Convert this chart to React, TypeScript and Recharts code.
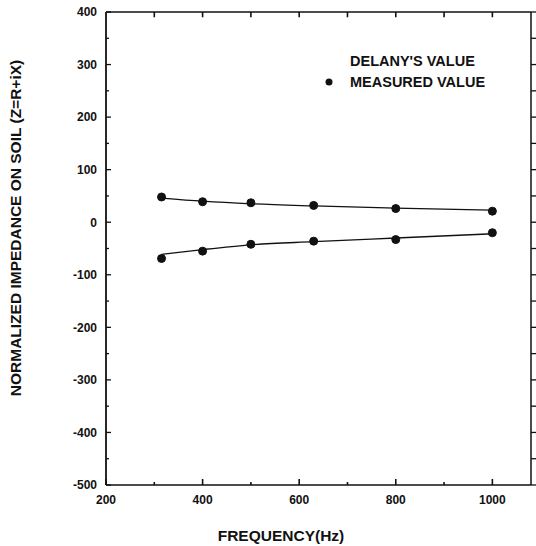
import { ComposedChart, Line, XAxis, YAxis, ReferenceLine, Customized } from "recharts";

// One-third-octave band centres (Hz)
const frequencies = [315, 400, 500, 630, 800, 1000];

// Delany–Bazley model, real (R) and imaginary (X) parts
const delanyReal = [46, 40, 35, 31, 27, 23];
const delanyImag = [-61, -52, -43, -37, -30, -22];

// Measured impedance
const measuredReal = [48, 39, 37, 32, 26, 21];
const measuredImag = [-69, -55, -42, -36, -33, -20];

const xTicks = [200, 300, 400, 500, 600, 700, 800, 900, 1000];
const yTicks = [
  -500, -450, -400, -350, -300, -250, -200, -150, -100, -50, 0, 50, 100, 150, 200, 250, 300, 350, 400,
];

const data = frequencies.map((f, i) => ({
  freq: f,
  delanyReal: delanyReal[i],
  delanyImag: delanyImag[i],
  measuredReal: measuredReal[i],
  measuredImag: measuredImag[i],
}));

const FONT = "'Liberation Sans', Arial, Helvetica, sans-serif";
const INK = "#111";
const PLOT_TOP = 12;
const Y_MIN = -500;
const Y_MAX = 400;

// bottom ticks point up into the plot
const BottomTick = (props: any) => {
  const { x, y, payload } = props;
  const major = payload.value % 200 === 0;
  return (
    <g>
      <line x1={x} y1={y} x2={x} y2={y - (major ? 6 : 3)} stroke={INK} strokeWidth={1.6} />
      {major && (
        <text x={x} y={y + 19} textAnchor="middle" fontFamily={FONT} fontSize={12} fontWeight="bold" fill={INK}>
          {payload.value}
        </text>
      )}
    </g>
  );
};

const LeftTick = (props: any) => {
  const { x, y, payload } = props;
  const major = payload.value % 100 === 0;
  return (
    <g>
      <line x1={x} y1={y} x2={x + (major ? 5 : 3)} y2={y} stroke={INK} strokeWidth={1.3} />
      {major && (
        <text x={x - 9} y={y} dy="0.36em" textAnchor="end" fontFamily={FONT} fontSize={12} fontWeight="bold" fill={INK}>
          {payload.value}
        </text>
      )}
    </g>
  );
};

const RightTick = (props: any) => {
  const { x, y } = props;
  return <line x1={x} y1={y} x2={x + 5} y2={y} stroke={INK} strokeWidth={1.3} />;
};

const Annotations = () => (
  <g fontFamily={FONT} fontWeight="bold" fill={INK}>
    <text x={350} y={61} dy="0.36em" fontSize={14.5}>
      DELANY'S VALUE
    </text>
    <circle cx={329} cy={82} r={3.5} fill={INK} />
    <text x={350} y={82} dy="0.36em" fontSize={14.5}>
      MEASURED VALUE
    </text>
    <text
      x={15}
      y={228}
      dy="0.36em"
      fontSize={15.5}
      textAnchor="middle"
      transform="rotate(-90 15 228)"
    >
      NORMALIZED IMPEDANCE ON SOIL (Z=R+iX)
    </text>
    <text x={281} y={541} fontSize={15.5} textAnchor="middle">
      FREQUENCY(Hz)
    </text>
  </g>
);

const dotStyle = { r: 4, fill: INK, stroke: INK, strokeWidth: 1 };

export default function App() {
  return (
    <div style={{ position: "absolute", left: 0, top: 0, background: "#fff" }}>
      <ComposedChart
        width={536}
        height={546}
        data={data}
        margin={{ top: PLOT_TOP - 2, right: 3, bottom: 31, left: 76 }}
      >
        <XAxis
          xAxisId="bottom"
          dataKey="freq"
          type="number"
          orientation="bottom"
          domain={[200, 1080]}
          allowDataOverflow
          ticks={xTicks}
          interval={0}
          height={30}
          tickSize={0}
          tickMargin={0}
          tickLine={false}
          axisLine={{ stroke: INK, strokeWidth: 1.5 }}
          tick={<BottomTick />}
        />
        <XAxis
          xAxisId="top"
          type="number"
          orientation="top"
          domain={[200, 1080]}
          allowDataOverflow
          height={2}
          tick={false}
          tickLine={false}
          axisLine={{ stroke: INK, strokeWidth: 1.5 }}
        />
        <YAxis
          yAxisId="left"
          type="number"
          orientation="left"
          domain={[Y_MIN, Y_MAX]}
          allowDataOverflow
          ticks={yTicks}
          interval={0}
          width={30}
          tickSize={0}
          tickMargin={0}
          tickLine={false}
          axisLine={{ stroke: INK, strokeWidth: 1.8 }}
          tick={<LeftTick />}
        />
        <YAxis
          yAxisId="right"
          type="number"
          orientation="right"
          domain={[Y_MIN, Y_MAX]}
          allowDataOverflow
          ticks={yTicks}
          interval={0}
          width={2}
          tickSize={0}
          tickMargin={0}
          tickLine={false}
          axisLine={{ stroke: INK, strokeWidth: 1.5 }}
          tick={<RightTick />}
        />
        {/* short ticks hanging down from the top frame */}
        {xTicks.slice(1).map((f) => (
          <ReferenceLine
            key={f}
            xAxisId="bottom"
            yAxisId="left"
            segment={[
              { x: f, y: Y_MAX },
              { x: f, y: Y_MAX - 10 },
            ]}
            stroke={INK}
            strokeWidth={1.6}
            ifOverflow="visible"
          />
        ))}
        <Line
          xAxisId="bottom"
          yAxisId="left"
          type="monotone"
          dataKey="delanyReal"
          stroke={INK}
          strokeWidth={1.3}
          dot={false}
          isAnimationActive={false}
        />
        <Line
          xAxisId="bottom"
          yAxisId="left"
          type="monotone"
          dataKey="delanyImag"
          stroke={INK}
          strokeWidth={1.3}
          dot={false}
          isAnimationActive={false}
        />
        <Line
          xAxisId="bottom"
          yAxisId="left"
          dataKey="measuredReal"
          stroke="none"
          dot={dotStyle}
          activeDot={false}
          isAnimationActive={false}
        />
        <Line
          xAxisId="bottom"
          yAxisId="left"
          dataKey="measuredImag"
          stroke="none"
          dot={dotStyle}
          activeDot={false}
          isAnimationActive={false}
        />
        <Customized component={Annotations} />
      </ComposedChart>
    </div>
  );
}
